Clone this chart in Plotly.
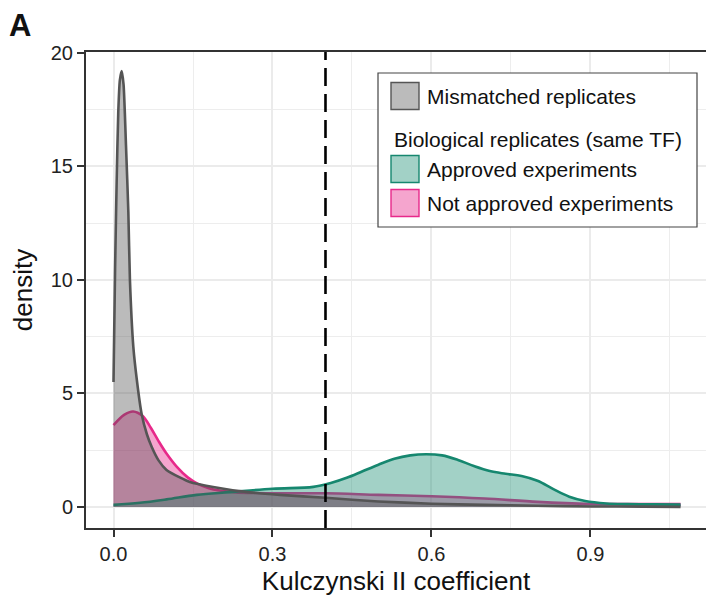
import plotly.graph_objects as go

# Kernel density estimates of the Kulczynski II coefficient
mismatched_x = [0.0, 0.003, 0.006, 0.009, 0.012, 0.0155, 0.019, 0.0236, 0.028, 0.031, 0.0374,
                0.044, 0.053, 0.063, 0.072, 0.085, 0.1, 0.125, 0.144, 0.188, 0.25, 0.314,
                0.4, 0.5, 0.6, 0.7, 0.8, 0.9, 1.0, 1.07]
mismatched_y = [5.5, 10.5, 14.4, 17.4, 18.8, 19.2, 18.6, 15.9, 13.0, 10.0, 7.05,
                5.6, 4.1, 3.2, 2.65, 2.05, 1.63, 1.3, 1.1, 0.88, 0.66, 0.53,
                0.4, 0.24, 0.14, 0.09, 0.05, 0.02, 0.01, 0.0]

approved_x = [0.0, 0.05, 0.1, 0.157, 0.22, 0.3, 0.377, 0.41, 0.44, 0.47, 0.5, 0.53, 0.56,
              0.59, 0.62, 0.65, 0.68, 0.71, 0.74, 0.77, 0.8, 0.83, 0.86, 0.89,
              0.93, 0.97, 1.02, 1.07]
approved_y = [0.09, 0.18, 0.33, 0.53, 0.65, 0.8, 0.88, 1.05, 1.28, 1.57, 1.86, 2.12, 2.27,
              2.32, 2.27, 2.07, 1.8, 1.58, 1.46, 1.36, 1.15, 0.78, 0.45, 0.26,
              0.15, 0.12, 0.11, 0.1]

not_approved_x = [0.0, 0.02, 0.037, 0.055, 0.07, 0.085, 0.1, 0.12, 0.14, 0.16, 0.18, 0.2,
                  0.23, 0.27, 0.32, 0.4, 0.5, 0.6, 0.7, 0.8, 0.9, 1.0, 1.07]
not_approved_y = [3.6, 4.05, 4.2, 4.0, 3.5, 2.9, 2.35, 1.75, 1.3, 1.0, 0.82, 0.72,
                  0.64, 0.61, 0.6, 0.6, 0.53, 0.47, 0.37, 0.22, 0.13, 0.12, 0.12]

threshold = 0.4

x_ticks = [0.0, 0.3, 0.6, 0.9]
x_tick_labels = ["0.0", "0.3", "0.6", "0.9"]
x_minor = [0.15, 0.45, 0.75, 1.05]
y_ticks = [0, 5, 10, 15, 20]
y_minor = [2.5, 7.5, 12.5, 17.5]

GREY_LINE, GREY_FILL = "#555555", "rgba(80,80,80,0.39)"
TEAL_LINE, TEAL_FILL = "#16876f", "rgba(22,140,112,0.40)"
PINK_LINE, PINK_FILL = "#e7298a", "rgba(231,41,138,0.42)"

FONT = "Liberation Sans, Arial, Helvetica, sans-serif"

W, H = 706, 597
L, R, T, B = 86, 0, 52, 69


def px(xp):
    return (xp - L) / (W - L - R)


def py(yp):
    return (H - B - yp) / (H - T - B)


fig = go.Figure()
for xs, ys, line, fill, name, smooth in [
    (not_approved_x, not_approved_y, PINK_LINE, PINK_FILL, "Not approved experiments", 0.9),
    (approved_x, approved_y, TEAL_LINE, TEAL_FILL, "Approved experiments", 1.0),
    (mismatched_x, mismatched_y, GREY_LINE, GREY_FILL, "Mismatched replicates", 0.6),
]:
    fig.add_trace(go.Scatter(
        x=xs, y=ys, mode="lines", name=name, fill="tozeroy", fillcolor=fill,
        line=dict(color=line, width=2.6, shape="spline", smoothing=smooth),
        showlegend=False, hoverinfo="x+y+name",
    ))

# threshold marker
fig.add_shape(type="line", xref="x", yref="paper", x0=threshold, x1=threshold, y0=0, y1=1,
              line=dict(color="black", width=2.6, dash="18px,8px"), layer="above")

# legend box
fig.add_shape(type="rect", xref="paper", yref="paper",
              x0=px(378), x1=px(697), y0=py(227), y1=py(73),
              fillcolor="white", line=dict(color="#444444", width=1.2), layer="above")

legend_items = [
    ("Mismatched replicates", GREY_FILL, GREY_LINE, 96),
    ("Approved experiments", TEAL_FILL, TEAL_LINE, 169),
    ("Not approved experiments", PINK_FILL, PINK_LINE, 203),
]
for label, fill, line, yc in legend_items:
    fig.add_shape(type="rect", xref="paper", yref="paper",
                  x0=px(391), x1=px(419), y0=py(yc + 13.5), y1=py(yc - 13.5),
                  fillcolor=fill, line=dict(color=line, width=1.4), layer="above")
    fig.add_annotation(text=label, xref="paper", yref="paper", x=px(425), y=py(yc),
                       xanchor="left", yanchor="middle", showarrow=False,
                       font=dict(size=21, color="#111111", family=FONT))

fig.add_annotation(text="Biological replicates (same TF)", xref="paper", yref="paper",
                   x=px(392), y=py(139), xanchor="left", yanchor="middle", showarrow=False,
                   font=dict(size=21, color="#111111", family=FONT))

# panel tag
fig.add_annotation(text="<b>A</b>", xref="paper", yref="paper", x=px(20), y=py(26),
                   xanchor="center", yanchor="middle", showarrow=False,
                   font=dict(size=31, color="#111111", family=FONT))

axis_common = dict(
    showgrid=True, gridcolor="#ebebeb", gridwidth=1.6, zeroline=False,
    showline=True, linecolor="#333333", linewidth=2,
    ticks="outside", ticklen=7, tickwidth=2, tickcolor="#333333",
    tickfont=dict(size=20, color="#222222", family=FONT),
)

fig.update_layout(
    width=W, height=H,
    margin=dict(l=L, r=R, t=T, b=B),
    plot_bgcolor="white", paper_bgcolor="white",
    showlegend=False,
    xaxis=dict(
        range=[-0.0519, 1.118], tickvals=x_ticks, ticktext=x_tick_labels,
        minor=dict(tickvals=x_minor, showgrid=True, gridcolor="#ededed", gridwidth=1.2, ticks=""),
        mirror=True,
        title=dict(text="Kulczynski II coefficient", standoff=8,
                   font=dict(size=26, color="#111111", family=FONT)),
        **axis_common,
    ),
    yaxis=dict(
        range=[-0.93, 20.04], tickvals=y_ticks,
        minor=dict(tickvals=y_minor, showgrid=True, gridcolor="#ededed", gridwidth=1.2, ticks=""),
        title=dict(text="density", standoff=11,
                   font=dict(size=26, color="#111111", family=FONT)),
        **axis_common,
    ),
)

fig.write_html("out.html")
